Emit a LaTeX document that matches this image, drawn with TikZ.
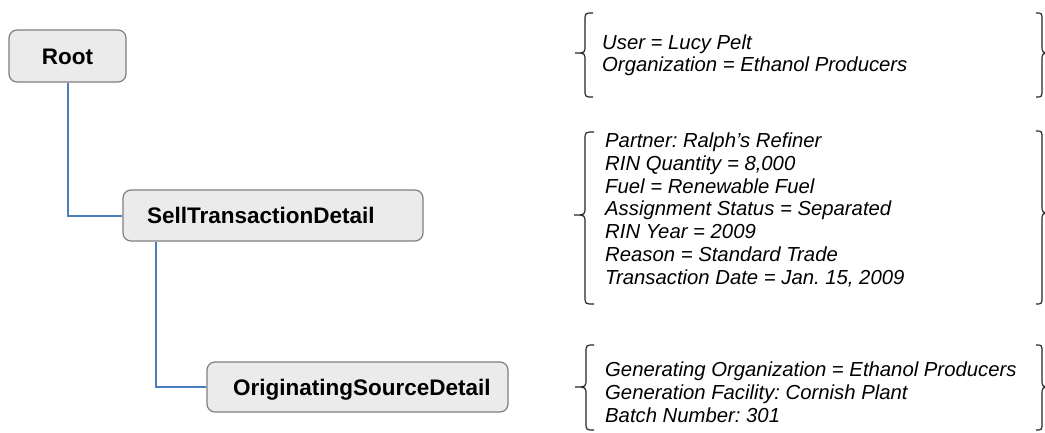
\documentclass[tikz,border=0pt]{standalone}
\usepackage{fontspec}
\setmainfont{Liberation Sans}
\frenchspacing
\begin{document}
\begin{tikzpicture}[x=1pt,y=-1pt,
  box/.style={draw=boxborder, fill=boxfill, line width=1.2pt, rounded corners=8pt,
    font=\fontsize{22.5}{26}\selectfont\bfseries, text height=16.1pt, text depth=0pt},
  conn/.style={draw=connblue, line width=2pt},
  attr/.style={font=\fontsize{20.3}{22.8}\selectfont\itshape\frenchspacing, align=left, inner sep=0pt, anchor=base west},
  brace/.style={draw=black!85, line width=1.2pt}
]
\definecolor{boxfill}{HTML}{EBEBEB}
\definecolor{boxborder}{HTML}{7F7F7F}
\definecolor{connblue}{HTML}{4A7EBB}
\clip (0,0) rectangle (1045,432);
\fill[white] (0,0) rectangle (1045,432);

% tree nodes
\node[box, minimum width=117pt, minimum height=52pt] (root) at (67.5,56) {Root};
\node[box, minimum height=51pt, text width=252pt, inner xsep=24pt, align=left] (sell) at (273,215.5) {SellTransactionDetail};
\node[box, minimum height=50pt, text width=249pt, inner xsep=26pt, align=left] (orig) at (357.5,387) {OriginatingSourceDetail};

% connectors
\draw[conn] (root.south) |- (sell.west);
\coordinate (sellfoot) at ([xshift=34pt]sell.south west);
\draw[conn] (sellfoot) |- (orig.west);

% attribute texts (anchor = baseline of last line)
\node[attr] (a1) at (602,71.8) {User = Lucy Pelt\\Organization = Ethanol Producers};
\node[attr] (a2) at (605,284.3) {Partner: Ralph’s Refiner\\RIN Quantity = 8,000\\Fuel = Renewable Fuel\\Assignment Status = Separated\\RIN Year = 2009\\Reason = Standard Trade\\Transaction Date = Jan. 15, 2009};
\node[attr] (a3) at (605,422.1) {Generating Organization = Ethanol Producers\\Generation Facility: Cornish Plant\\Batch Number: 301};

% braces group 1
\draw[brace] (593,13) .. controls (585,13) .. (585,21) -- (585,45) .. controls (585,53) .. (575,53) .. controls (585,53) .. (585,61) -- (585,89) .. controls (585,97) .. (593,97);
\draw[brace] (1036,13) .. controls (1042,13) .. (1042,21) -- (1042,45) .. controls (1042,53) .. (1052,53) .. controls (1042,53) .. (1042,61) -- (1042,89) .. controls (1042,97) .. (1036,97);
% braces group 2
\draw[brace] (594,132) .. controls (585,132) .. (585,140) -- (585,207) .. controls (585,215) .. (574,215) .. controls (585,215) .. (585,223) -- (585,296) .. controls (585,304) .. (594,304);
\draw[brace] (1036,131) .. controls (1042,131) .. (1042,139) -- (1042,205) .. controls (1042,213) .. (1052,213) .. controls (1042,213) .. (1042,221) -- (1042,296) .. controls (1042,304) .. (1036,304);
% braces group 3
\draw[brace] (594,345) .. controls (586,345) .. (586,353) -- (586,379) .. controls (586,387) .. (575,387) .. controls (586,387) .. (586,395) -- (586,422) .. controls (586,430) .. (594,430);
\draw[brace] (1036,345) .. controls (1042,345) .. (1042,353) -- (1042,379) .. controls (1042,387) .. (1052,387) .. controls (1042,387) .. (1042,395) -- (1042,422) .. controls (1042,430) .. (1036,430);
\end{tikzpicture}
\end{document}
